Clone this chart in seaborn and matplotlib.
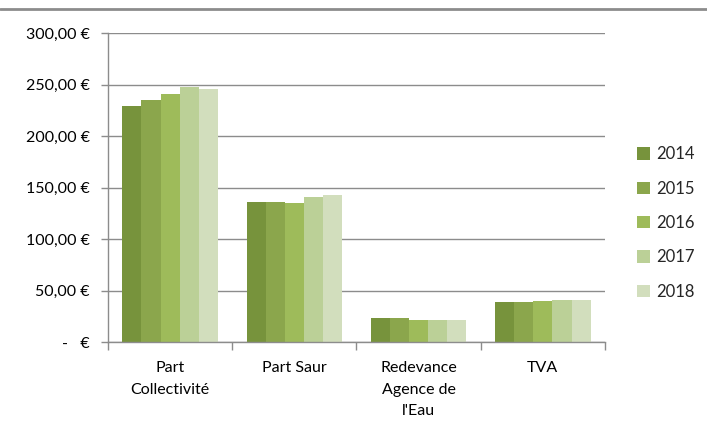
import matplotlib
matplotlib.use("Agg")
import matplotlib.pyplot as plt
import seaborn as sns
import pandas as pd
from matplotlib.lines import Line2D
from matplotlib.ticker import FixedLocator, FuncFormatter

categories = ["Part\nCollectivité", "Part Saur", "Redevance\nAgence de\nl'Eau", "TVA"]
years = ["2014", "2015", "2016", "2017", "2018"]
v2014 = [229.5, 135.5, 23.3, 38.8]
v2015 = [235.0, 135.5, 23.3, 38.8]
v2016 = [240.8, 134.6, 21.4, 39.8]
v2017 = [247.9, 141.0, 21.2, 40.8]
v2018 = [246.0, 142.7, 21.2, 40.8]
colors = ["#77933C", "#8BA64C", "#9EBB5A", "#BBD097", "#D2DEBD"]

series = [v2014, v2015, v2016, v2017, v2018]
rows = []
for y, vals in zip(years, series):
    for c, v in zip(categories, vals):
        rows.append({"cat": c, "year": y, "val": v})
df = pd.DataFrame(rows)

sns.set_theme(style="white")
plt.rcParams["font.family"] = ["Lato", "DejaVu Sans"]

fig = plt.figure(figsize=(7.07, 4.36), dpi=100)
ax = fig.add_axes([108/707, 1-342/436, (605-108)/707, (342-33)/436])

sns.barplot(data=df, x="cat", y="val", hue="year", palette=colors,
            width=0.77, gap=0, saturation=1, ax=ax, legend=True, edgecolor="none")

ax.set_ylim(0, 300)
ax.set_xlim(-0.5, 3.5)
ax.set_yticks([0, 50, 100, 150, 200, 250, 300])

def fmt(v, pos):
    if v == 0:
        return "-   €"
    return f"{v:,.2f} €".replace(",", " ").replace(".", ",")
ax.yaxis.set_major_formatter(FuncFormatter(fmt))
ax.yaxis.grid(True, color="#8c8c8c", linewidth=1)
ax.set_axisbelow(True)
ax.set_xlabel("")
ax.set_ylabel("")

for s in ["top", "right"]:
    ax.spines[s].set_visible(False)
for s in ["left", "bottom"]:
    ax.spines[s].set_color("#8c8c8c")
    ax.spines[s].set_linewidth(1)

ax.tick_params(axis="y", which="major", length=5, width=1, color="#8c8c8c",
               labelsize=11.5, labelcolor="black", pad=8, left=True)
ax.tick_params(axis="x", which="major", length=0, labelsize=11.5, labelcolor="black", pad=14)
ax.xaxis.set_minor_locator(FixedLocator([-0.5, 0.5, 1.5, 2.5, 3.5]))
ax.tick_params(axis="x", which="minor", length=6, width=1, color="#8c8c8c", bottom=True)
for lab in ax.get_xticklabels():
    lab.set_linespacing(1.65)

handles, labels = ax.get_legend_handles_labels()
ax.legend(handles, labels, loc="center left", bbox_to_anchor=(1.035, 0.385),
          frameon=False, fontsize=12, handlelength=0.75, handleheight=0.75,
          handletextpad=0.4, labelspacing=1.1)

fig.add_artist(Line2D([0, 1], [1-9/436, 1-9/436], color="#8c8c8c", linewidth=2,
                      transform=fig.transFigure))

fig.savefig("out.png", dpi=100)
